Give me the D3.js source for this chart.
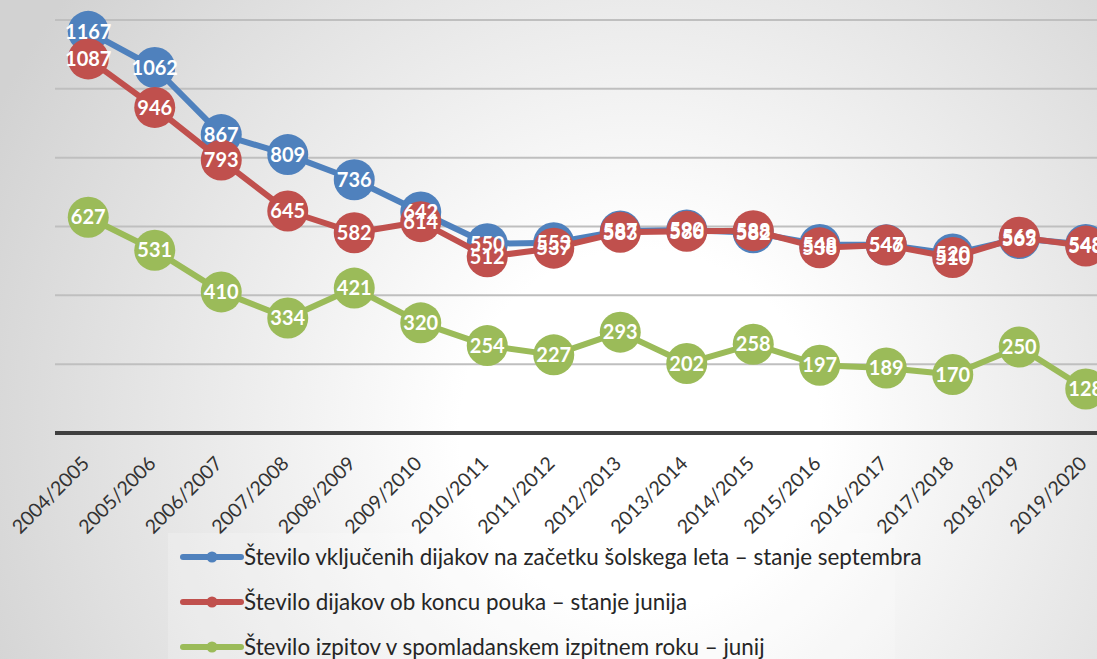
<!DOCTYPE html>
<html>
<head>
<meta charset="utf-8">
<script src="https://cdn.jsdelivr.net/npm/d3@7"></script>
<style>
    body { margin: 0; overflow: hidden; }
    svg { display: block; }
</style>
</head>
<body>
<svg width="1097" height="659"></svg>
<script>
var svg = d3.select('svg');

// Get layout parameters
var svgWidth = +svg.attr('width');
var svgHeight = +svg.attr('height');

var years = [
    '2004/2005', '2005/2006', '2006/2007', '2007/2008',
    '2008/2009', '2009/2010', '2010/2011', '2011/2012',
    '2012/2013', '2013/2014', '2014/2015', '2015/2016',
    '2016/2017', '2017/2018', '2018/2019', '2019/2020'
];
var enrolledSeptember = [1167, 1062, 867, 809, 736, 642, 550, 553, 587, 590, 582, 548, 547, 520, 565, 548];
var enrolledJune = [1087, 946, 793, 645, 582, 614, 512, 537, 583, 586, 588, 538, 546, 510, 569, 543];
var examsJune = [627, 531, 410, 334, 421, 320, 254, 227, 293, 202, 258, 197, 189, 170, 250, 128];
var yTicks = [0, 200, 400, 600, 800, 1000, 1200];

var seriesNames = [
    'Število vključenih dijakov na začetku šolskega leta – stanje septembra',
    'Število dijakov ob koncu pouka – stanje junija',
    'Število izpitov v spomladanskem izpitnem roku – junij'
];
var seriesColors = ['#4f81bd', '#c0504d', '#9bbb59'];

var series = [enrolledSeptember, enrolledJune, examsJune].map(function(values, i) {
    return {name: seriesNames[i], color: seriesColors[i], values: values};
});

// background gradient
var defs = svg.append('defs');
var grad = defs.append('radialGradient')
    .attr('id', 'bg')
    .attr('gradientUnits', 'userSpaceOnUse')
    .attr('cx', 640).attr('cy', 430).attr('r', 720);
grad.append('stop').attr('offset', '0%').attr('stop-color', '#ffffff');
grad.append('stop').attr('offset', '25%').attr('stop-color', '#ffffff');
grad.append('stop').attr('offset', '100%').attr('stop-color', '#d2d2d2');

svg.append('rect')
    .attr('width', svgWidth)
    .attr('height', svgHeight)
    .attr('fill', 'url(#bg)');

var leftMargin = 55;
var step = 66.5;
var x = d3.scalePoint()
    .domain(years)
    .range([leftMargin + step / 2, leftMargin + step * (years.length - 0.5)]);
var y = d3.scaleLinear()
    .domain([0, 1200])
    .range([433, 20]);

// gridlines
svg.selectAll('.grid')
    .data(yTicks.slice(1))
    .enter()
    .append('line')
    .attr('class', 'grid')
    .attr('x1', leftMargin)
    .attr('x2', svgWidth + 30)
    .attr('y1', function(d) { return y(d); })
    .attr('y2', function(d) { return y(d); })
    .style('stroke', '#bfbfbf')
    .style('stroke-width', 2);

// x axis
var xAxis = svg.append('g')
    .attr('transform', 'translate(0,' + y(0) + ')')
    .call(d3.axisBottom(x).tickSize(0).tickPadding(0));
xAxis.select('.domain').remove();
xAxis.append('line')
    .attr('x1', leftMargin)
    .attr('x2', svgWidth + 30)
    .style('stroke', '#404040')
    .style('stroke-width', 4);
xAxis.selectAll('.tick text')
    .attr('transform', 'translate(-3,27) rotate(-45)')
    .attr('dy', '0.35em')
    .style('text-anchor', 'end')
    .style('fill', '#333333')
    .style('font-size', '19.5px')
    .style('font-weight', '400')
    .style('font-family', 'Lato');

var line = d3.line()
    .x(function(d, i) { return x(years[i]); })
    .y(function(d) { return y(d); });

var seriesG = svg.selectAll('.series')
    .data(series)
    .enter()
    .append('g')
    .attr('class', 'series');

seriesG.append('path')
    .attr('d', function(d) { return line(d.values); })
    .style('fill', 'none')
    .style('stroke', function(d) { return d.color; })
    .style('stroke-width', 6)
    .style('stroke-linejoin', 'round');

seriesG.selectAll('circle')
    .data(function(d) {
        return d.values.map(function(v, i) { return {v: v, i: i, color: d.color}; });
    })
    .enter()
    .append('circle')
    .attr('cx', function(d) { return x(years[d.i]); })
    .attr('cy', function(d) { return y(d.v); })
    .attr('r', 20.5)
    .style('fill', function(d) { return d.color; });

// data labels on top of everything
series.forEach(function(s) {
    svg.append('g')
        .selectAll('text')
        .data(s.values)
        .enter()
        .append('text')
        .attr('x', function(d, i) { return x(years[i]); })
        .attr('y', function(d) { return y(d); })
        .attr('dy', '0.36em')
        .text(function(d) { return d; })
        .style('text-anchor', 'middle')
        .style('fill', 'white')
        .style('font-weight', 'bold')
        .style('font-size', '20px')
        .style('font-family', 'Lato');
});

// legend
var legend = svg.append('g');
legend.append('rect')
    .attr('x', 168)
    .attr('y', 533)
    .attr('width', 727)
    .attr('height', 130)
    .style('fill', '#ffffff')
    .style('opacity', 0.2);

var legendItem = legend.selectAll('.legend-item')
    .data(series)
    .enter()
    .append('g')
    .attr('class', 'legend-item')
    .attr('transform', function(d, i) {
        return 'translate(' + [180, 557 + i * 45] + ')';
    });
legendItem.append('line')
    .attr('x1', 3)
    .attr('x2', 61)
    .style('stroke', function(d) { return d.color; })
    .style('stroke-width', 6)
    .style('stroke-linecap', 'round');
legendItem.append('circle')
    .attr('cx', 32)
    .attr('r', 5.5)
    .style('fill', function(d) { return d.color; });
legendItem.append('text')
    .attr('x', 64)
    .attr('dy', '0.35em')
    .text(function(d) { return d.name; })
    .style('fill', '#262626')
    .style('font-size', '22.4px')
    .style('font-family', 'Lato');
</script>
</body>
</html>
